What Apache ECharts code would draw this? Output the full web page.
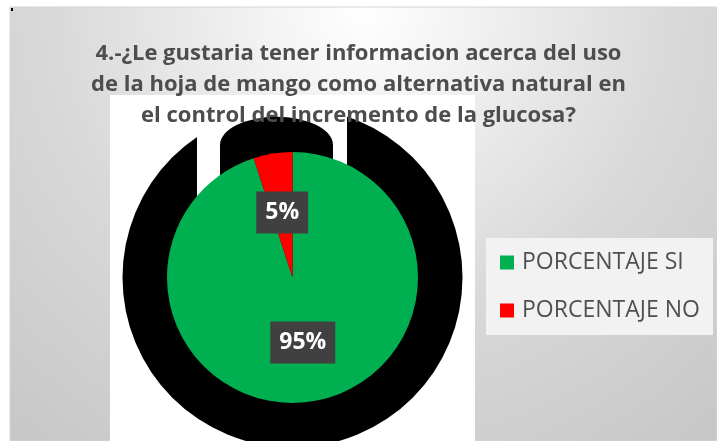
<!DOCTYPE html>
<html>
<head>
<meta charset="utf-8">
<script src="https://cdn.jsdelivr.net/npm/echarts@6/dist/echarts.min.js"></script>
<style>
  html, body { margin: 0; padding: 0; background: #fff; }
  #container1 { width: 717px; height: 441px; }
</style>
</head>
<body>
<div id="container1"></div>
<script>
var tituloTexto = '4.-¿Le gustaria tener informacion acerca del uso\nde la hoja de mango como alternativa natural en\nel control del incremento de la glucosa?';
var categorias = ['PORCENTAJE SI', 'PORCENTAJE NO'];
var valores = [95, 5];
var colores = ['#00b050', '#ff0000'];

var dom = document.getElementById("container1");
var myChart = echarts.init(dom);
var option = null;

// centro y radio del pastel (px)
var cx = 292.5, cy = 277.5, radio = 125.5;

option = {
    backgroundColor: '#ffffff',
    animation: false,
    title: {
        text: tituloTexto,
        left: 'center',
        top: 38,
        padding: [0, 0, 0, 5],
        textStyle: {
            fontFamily: 'Open Sans',
            fontWeight: 'bold',
            fontSize: 22,
            lineHeight: 31,
            color: '#4d4d4d'
        }
    },
    legend: {
        orient: 'vertical',
        left: 500,
        top: 251,
        padding: 0,
        itemWidth: 14,
        itemHeight: 14,
        itemGap: 25,
        icon: 'rect',
        selectedMode: false,
        data: categorias,
        textStyle: {
            fontFamily: 'Open Sans',
            fontSize: 23,
            color: '#505050',
            padding: [0, 0, 0, 3]
        }
    },
    graphic: [
        // fondo degradado del area del grafico
        {
            type: 'rect', silent: true,
            shape: { x: 10, y: 7, width: 707, height: 434 },
            style: {
                fill: {
                    type: 'radial', x: 0.5, y: 0, r: 1.3,
                    colorStops: [
                        { offset: 0, color: '#ffffff' },
                        { offset: 0.55, color: '#d9d9d9' },
                        { offset: 1, color: '#c6c6c6' }
                    ]
                },
                stroke: '#d4d4d4', lineWidth: 1
            }
        },
        { type: 'rect', silent: true, shape: { x: 11, y: 8, width: 2, height: 3 }, style: { fill: '#000' } },
        // panel blanco detras del pastel
        { type: 'rect', silent: true, shape: { x: 110, y: 95, width: 365, height: 346 }, style: { fill: '#ffffff' } },
        // sombra negra
        { type: 'circle', silent: true, shape: { cx: cx, cy: cy, r: 170 }, style: { fill: '#000000' } },
        { type: 'rect', silent: true, shape: { x: 197, y: 95, width: 150, height: 180 }, style: { fill: '#ffffff' } },
        { type: 'rect', silent: true, shape: { x: 220, y: 145, width: 113, height: 130 }, style: { fill: '#000000' } },
        { type: 'circle', silent: true, x: 276.5, y: 145, scaleY: 0.5, shape: { cx: 0, cy: 0, r: 56.5 }, style: { fill: '#000000' } },
        // caja de la leyenda
        { type: 'rect', silent: true, shape: { x: 486, y: 238, width: 227, height: 97 }, style: { fill: '#f2f2f2' } }
    ],
    series: [
        {
            name: 'Respuesta',
            type: 'pie',
            center: [cx, cy],
            radius: [0, radio],
            startAngle: 90,
            clockwise: true,
            silent: true,
            color: colores,
            labelLine: { show: false },
            label: {
                show: true,
                position: 'inside',
                formatter: '{d}%',
                fontFamily: 'Open Sans',
                fontWeight: 'bold',
                fontSize: 23,
                color: '#ffffff',
                backgroundColor: '#404040',
                padding: [10, 9, 9, 9]
            },
            data: categorias.map(function (c, i) {
                return { name: c, value: valores[i] };
            })
        }
    ]
};

if (option && typeof option === "object") {
    myChart.setOption(option, true);
}
</script>
</body>
</html>
